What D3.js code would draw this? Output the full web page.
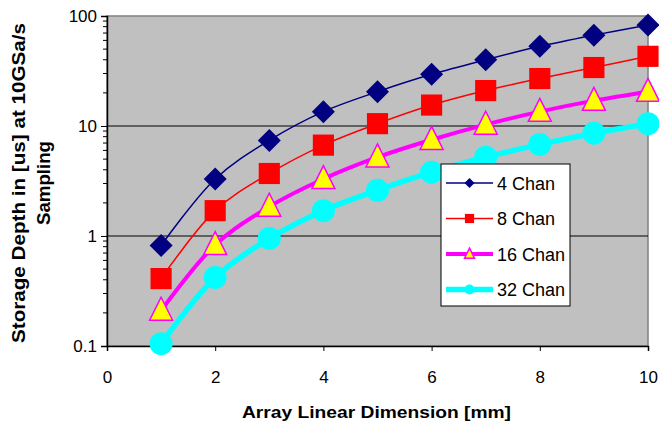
<!DOCTYPE html>
<html>
<head>
<meta charset="utf-8">
<script src="https://cdn.jsdelivr.net/npm/d3@7"></script>
<style>
  body { margin: 0; background: #fff; }
  text { font-family: Arial, "Liberation Sans", sans-serif; }
</style>
</head>
<body>
<script>
// data
var dims = [1, 2, 3, 4, 5, 6, 7, 8, 9, 10];
var chan4 = [0.82, 3.3, 7.4, 13.5, 20.5, 29.5, 40, 53, 67, 83];
var chan8 = [0.41, 1.7, 3.7, 6.7, 10.5, 15.5, 21, 27, 34, 43];
var chan16 = [0.21, 0.83, 1.85, 3.3, 5.2, 7.5, 10.3, 13.5, 17, 20.5];
var chan32 = [0.105, 0.42, 0.95, 1.7, 2.6, 3.8, 5.2, 6.8, 8.6, 10.5];
var seriesNames = ["4 Chan", "8 Chan", "16 Chan", "32 Chan"];
var xTicks = [0, 2, 4, 6, 8, 10];
var yTicks = [0.1, 1, 10, 100];

var width = 659, height = 427;
var margin = {left: 107, top: 16, right: 11, bottom: 81};
var plotW = width - margin.left - margin.right;
var plotH = height - margin.top - margin.bottom;

var svg = d3.select('body').append('svg')
  .attr('width', width).attr('height', height);

var x = d3.scaleLinear().domain([0, 10]).range([0, plotW]);
var y = d3.scaleLog().domain([0.1, 100]).range([plotH, 0]);

var g = svg.append('g').attr('transform', `translate(${margin.left},${margin.top})`);

// plot background
g.append('rect').attr('width', plotW).attr('height', plotH)
  .attr('fill', '#c0c0c0').attr('stroke', '#808080').attr('stroke-width', 1.5);

// gridlines
g.selectAll('.grid').data([1, 10]).enter().append('line')
  .attr('x1', 0).attr('x2', plotW)
  .attr('y1', d => y(d)).attr('y2', d => y(d))
  .attr('stroke', '#000').attr('stroke-width', 1);

// y axis, minor ticks at 2..9 of each decade
var minor = [];
[0.1, 1, 10].forEach(function(dec) {
  for (var k = 2; k <= 9; k++) minor.push(dec * k);
});
g.selectAll('.minor').data(minor).enter().append('line')
  .attr('x1', -4).attr('x2', 0)
  .attr('y1', d => y(d)).attr('y2', d => y(d))
  .attr('stroke', '#000');
var yAxis = d3.axisLeft(y).tickValues(yTicks).tickSize(6).tickPadding(4)
  .tickFormat(d => d3.format('')(d));
var ya = g.append('g').call(yAxis);
ya.select('.domain').attr('stroke', '#000').attr('stroke-width', 1.5);
ya.selectAll('text').attr('font-size', 17).attr('fill', '#000')
  .attr('font-family', 'Arial, "Liberation Sans", sans-serif');

var xAxis = d3.axisBottom(x).tickValues(xTicks).tickSize(5).tickPadding(20);
var xa = g.append('g').attr('transform', `translate(0,${plotH})`).call(xAxis);
xa.select('.domain').attr('stroke', '#000').attr('stroke-width', 1.5);
xa.selectAll('text').attr('font-size', 17).attr('fill', '#000')
  .attr('font-family', 'Arial, "Liberation Sans", sans-serif');

// series
var styles = [
  {vals: chan4, color: '#000080', lw: 1.5, shape: 'diamond'},
  {vals: chan8, color: '#ff0000', lw: 1.5, shape: 'square'},
  {vals: chan16, color: '#ff00ff', lw: 4, shape: 'triangle'},
  {vals: chan32, color: '#00ffff', lw: 5.5, shape: 'circle'}
];

var line = d3.line().x(d => x(d[0])).y(d => y(d[1])).curve(d3.curveCatmullRom.alpha(0.5));

function drawMarker(sel, shape, color, size) {
  if (shape === 'diamond') {
    sel.append('path').attr('d', `M0,${-size/2}L${size/2},0L0,${size/2}L${-size/2},0Z`)
      .attr('fill', color);
  } else if (shape === 'square') {
    var s = size * 0.92;
    sel.append('rect').attr('x', -s/2).attr('y', -s/2).attr('width', s).attr('height', s)
      .attr('fill', color);
  } else if (shape === 'triangle') {
    var h = size;
    sel.append('path').attr('d', `M0,${-h*0.58}L${h*0.5},${h*0.42}L${-h*0.5},${h*0.42}Z`)
      .attr('fill', '#ffff00').attr('stroke', color).attr('stroke-width', 1.5);
  } else {
    sel.append('circle').attr('r', size/2).attr('fill', color);
  }
}

styles.forEach(function(s) {
  var pts = dims.map((d, i) => [d, s.vals[i]]);
  g.append('path').attr('d', line(pts)).attr('fill', 'none')
    .attr('stroke', s.color).attr('stroke-width', s.lw);
  pts.forEach(function(p) {
    var m = g.append('g').attr('transform', `translate(${x(p[0])},${y(p[1])})`);
    drawMarker(m, s.shape, s.color, 23);
  });
});

// legend
var lg = svg.append('g').attr('transform', 'translate(441,164)');
lg.append('rect').attr('width', 129).attr('height', 142)
  .attr('fill', '#fff').attr('stroke', '#000').attr('stroke-width', 1);
styles.forEach(function(s, i) {
  var cy = 19 + i * 35.5;
  lg.append('line').attr('x1', 5).attr('x2', 52).attr('y1', cy).attr('y2', cy)
    .attr('stroke', s.color).attr('stroke-width', s.lw);
  var m = lg.append('g').attr('transform', `translate(28.5,${cy})`);
  drawMarker(m, s.shape, s.color, 10);
  lg.append('text').attr('x', 56).attr('y', cy + 6.5).attr('font-size', 18)
    .text(seriesNames[i]);
});

// axis titles
svg.append('text').attr('x', margin.left + plotW / 2 - 1).attr('y', 418)
  .attr('text-anchor', 'middle').attr('font-size', 17).attr('font-weight', 'bold')
  .attr('textLength', 269).attr('lengthAdjust', 'spacingAndGlyphs')
  .text('Array Linear Dimension [mm]');
var yt = svg.append('text').attr('transform', 'translate(24.5,183) rotate(-90)')
  .attr('text-anchor', 'middle').attr('font-size', 18).attr('font-weight', 'bold');
yt.append('tspan').attr('x', 0).attr('y', 0)
  .attr('textLength', 320).attr('lengthAdjust', 'spacingAndGlyphs')
  .text('Storage Depth in [us] at 10GSa/s');
yt.append('tspan').attr('x', 0).attr('y', 25)
  .attr('textLength', 84).attr('lengthAdjust', 'spacingAndGlyphs')
  .text('Sampling');
</script>
</body>
</html>
